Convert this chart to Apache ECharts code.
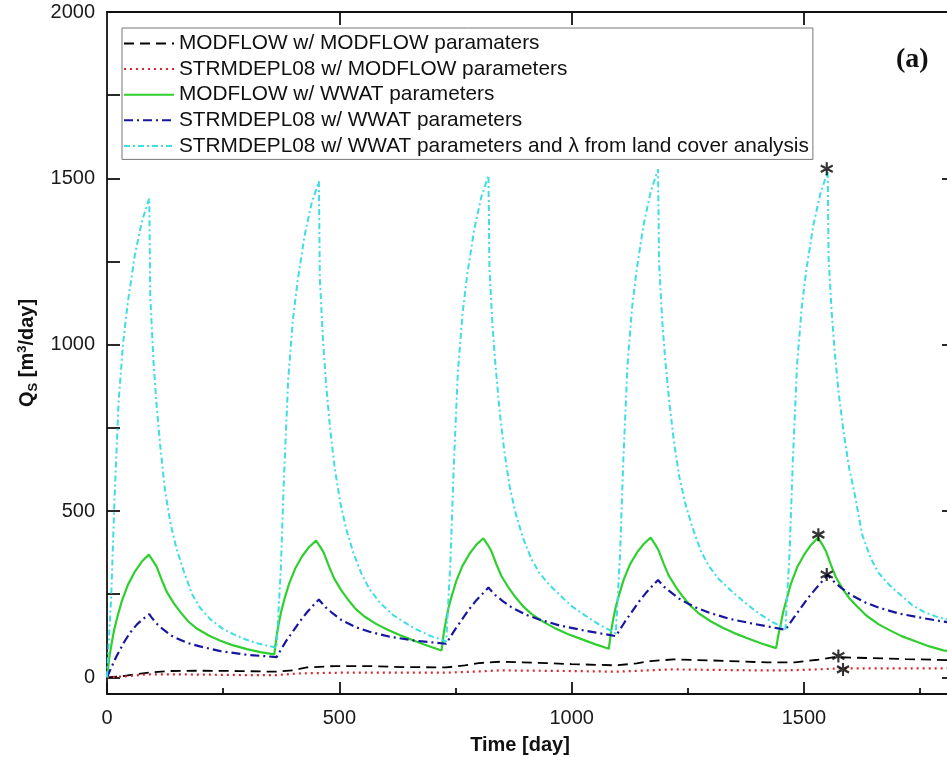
<!DOCTYPE html>
<html><head><meta charset="utf-8">
<script src="https://cdn.jsdelivr.net/npm/echarts@6/dist/echarts.min.js"></script>
<style>html,body{margin:0;padding:0;background:#fff}#c{width:947px;height:757px}</style>
</head><body><div id="c"></div>
<script>
// ---------- DATA ----------
const seriesNames = [
  'MODFLOW w/ MODFLOW paramaters',
  'STRMDEPL08 w/ MODFLOW parameters',
  'MODFLOW w/ WWAT parameters',
  'STRMDEPL08 w/ WWAT parameters',
  'STRMDEPL08 w/ WWAT parameters and \u03bb from land cover analysis'
];
const xTickValues = [0, 500, 1000, 1500];
const xMinorValues = [250, 750, 1250, 1750];
const yTickValues = [0, 250, 500, 750, 1000, 1250, 1500, 1750, 2000];
const yLabelValues = [0, 500, 1000, 1500, 2000];

// MODFLOW w/ MODFLOW parameters (black dashed)
const blackT = [0,30,60,90,130,200,280,365,400,430,490,560,640,730,770,800,846,920,1000,1095,1140,1170,1220,1300,1420,1480,1530,1565,1640,1720,1808,1825];
const blackV = [0,3,9,14,19,20,19,17,21,30,34,34,31,30,36,43,47,44,40,36,42,49,54,51,45,45,53,61,58,55,52,52];
// STRMDEPL08 w/ MODFLOW parameters (red dotted)
const redT = [0,40,86,150,290,365,416,500,631,730,800,846,1000,1097,1160,1219,1400,1460,1530,1580,1700,1825];
const redV = [0,3,9,9,7,7,12,14,14,14,18,21,19,17,21,24,21,21,24,27,27,27];

// MODFLOW w/ WWAT parameters (green) - cycle starts and day-in-cycle
const greenStarts = [0, 360, 720, 1080, 1440];
const greenDays = [0,5,10,15,22,32,45,60,75,90,93,100,107,118,129,145,158,175,194,220,244,270,301,330];
const greenC1 = [0,60,102,140,180,230,278,318,348,369,364,348,332,292,256,220,196,168,146,125,110,97,85,76];
const greenC2 = [69,125,164,199,236,282,327,364,392,411,406,390,373,333,297,260,235,206,183,160,143,127,110,95];
const greenC3 = [81,136,174,209,245,291,335,371,399,418,413,397,380,340,304,268,243,214,190,166,148,131,115,100];
const greenC4 = [86,140,178,212,248,294,338,374,401,420,415,399,382,342,306,270,245,216,192,168,150,133,116,101];
const greenC5 = [88,128,160,195,232,282,330,368,398,420,415,398,380,338,300,262,237,212,186,160,142,124,108,93];
const greenEndT = [1800, 1825];
const greenEndV = [81, 77];

// STRMDEPL08 w/ WWAT parameters (blue dash-dot)
const blueStarts = [0, 365, 730, 1095, 1460];
const blueDays = [0,10,20,36,50,65,80,91,95,105,121,140,172,200,244,300];
const blueC1 = [0,32,62,104,135,160,178,190,182,164,144,124,104,93,79,68];
const blueC2 = [61,85,108,140,168,195,218,234,227,211,192,172,150,137,122,110];
const blueC3 = [101,124,146,178,206,232,254,270,263,248,230,211,188,174,156,140];
const blueC4 = [124,146,168,200,228,254,277,293,286,271,253,233,210,195,176,160];
const blueC5 = [143,163,183,214,241,266,290,309,301,287,268,249,225,210,192,177];
const blueEndT = [1808, 1825];
const blueEndV = [166, 163];

// STRMDEPL08 w/ WWAT parameters and lambda (cyan)
const cyanStarts = [0, 365, 730, 1095, 1460];
const cyanDays = [0,4,9,16,25,35,45,60,75,91,93,100,106,115,125,137,150,165,183,200,222,250,272,300,330];
const cyanC1 = [0,110,240,530,830,1010,1130,1270,1370,1440,1150,950,830,690,560,460,385,320,250,210,175,145,130,113,100];
const cyanC2 = [89,196,323,605,897,1073,1190,1326,1423,1491,1200,1010,890,750,630,525,445,375,310,265,225,188,168,145,125];
const cyanC3 = [108,215,342,624,916,1091,1208,1344,1441,1509,1230,1050,940,800,680,570,490,420,357,315,278,240,212,185,158];
const cyanC4 = [132,239,364,645,936,1111,1227,1362,1459,1527,1250,1070,960,830,710,600,520,450,380,335,295,258,232,200,172];
const cyanC5 = [145,250,374,651,938,1110,1224,1358,1453,1520,1260,1090,980,850,740,630,545,430,360,315,280,245,218,195,180];
const cyanEndT = [1825];
const cyanEndV = [170];

// asterisk markers (peak points of last cycle)
const starT = [1549, 1531, 1549, 1574, 1584];
const starV = [1529, 429, 309, 64, 24];

// ---------- BUILD ----------
function pairs(ts, vs) { return ts.map((t, i) => [t, vs[i]]); }
function cycles(starts, days, cyc, endT, endV) {
  const out = [];
  starts.forEach((s, k) => days.forEach((d, i) => out.push([s + d, cyc[k][i]])));
  endT.forEach((t, i) => out.push([t, endV[i]]));
  return out;
}
const blackData = pairs(blackT, blackV);
const redData = pairs(redT, redV);
const greenData = cycles(greenStarts, greenDays, [greenC1, greenC2, greenC3, greenC4, greenC5], greenEndT, greenEndV);
const blueData = cycles(blueStarts, blueDays, [blueC1, blueC2, blueC3, blueC4, blueC5], blueEndT, blueEndV);
const cyanData = cycles(cyanStarts, cyanDays, [cyanC1, cyanC2, cyanC3, cyanC4, cyanC5], cyanEndT, cyanEndV);
const starData = pairs(starT, starV);

const FONT = '"Liberation Sans", Arial, sans-serif';
const AX = { color: '#111', width: 1.8 };
const plain = v => String(v);

function lineSeries(name, data, color, width, dash) {
  return {
    name, type: 'line', data, symbol: 'none', showSymbol: false, silent: true,
    lineStyle: { color, width, type: dash, cap: 'butt' },
    itemStyle: { color }, animation: false, xAxisIndex: 0, yAxisIndex: 0
  };
}

const chart = echarts.init(document.getElementById('c'), null, { renderer: 'canvas' });
chart.setOption({
  animation: false,
  backgroundColor: '#fff',
  grid: { left: 107, top: 12, width: 848, height: 682, containLabel: false, outerBoundsMode: 'none' },
  xAxis: [
    { type: 'value', min: 0, max: 1825, position: 'bottom',
      axisLine: { show: true, onZero: false, lineStyle: AX },
      axisTick: { show: true, inside: true, length: 12, lineStyle: AX, customValues: xTickValues },
      axisLabel: { show: true, customValues: xTickValues, formatter: plain, fontSize: 20, fontFamily: FONT, color: '#1a1a1a', margin: 14 },
      splitLine: { show: false },
      name: 'Time [day]', nameLocation: 'middle', nameGap: 41,
      nameTextStyle: { fontSize: 20, fontWeight: 'bold', fontFamily: FONT, color: '#111', padding: [0, 22, 0, 0] } },
    { type: 'value', min: 0, max: 1825, position: 'bottom',
      axisLine: { show: false, onZero: false },
      axisTick: { show: true, inside: true, length: 6, lineStyle: AX, customValues: xMinorValues },
      axisLabel: { show: false }, splitLine: { show: false } },
    { type: 'value', min: 0, max: 1825, position: 'top',
      axisLine: { show: true, onZero: false, lineStyle: AX },
      axisTick: { show: true, inside: true, length: 13, lineStyle: AX, customValues: [500, 1000, 1500] },
      axisLabel: { show: false }, splitLine: { show: false } }
  ],
  yAxis: [
    { type: 'value', min: -50, max: 2000, position: 'left',
      axisLine: { show: true, onZero: false, lineStyle: AX },
      axisTick: { show: true, inside: true, length: 13, lineStyle: AX, customValues: yTickValues },
      axisLabel: { show: true, customValues: yLabelValues, formatter: plain, fontSize: 20, fontFamily: FONT, color: '#1a1a1a', margin: 12 },
      splitLine: { show: false },
      name: '{a|Q}{s|S}{a| [m}{p|3}{a|/day]}', nameLocation: 'middle', nameGap: 50, nameRotate: 90,
      nameTextStyle: {
        fontSize: 20, fontWeight: 'bold', fontFamily: FONT, color: '#111',
        rich: {
          a: { fontSize: 20, fontWeight: 'bold', fontFamily: FONT, color: '#111', lineHeight: 24 },
          s: { fontSize: 13, fontWeight: 'bold', fontFamily: FONT, color: '#111', lineHeight: 12, verticalAlign: 'bottom' },
          p: { fontSize: 13, fontWeight: 'bold', fontFamily: FONT, color: '#111', lineHeight: 12, verticalAlign: 'top' }
        }
      } },
    { type: 'value', min: -50, max: 2000, position: 'right',
      axisLine: { show: true, onZero: false, lineStyle: AX },
      axisTick: { show: true, inside: true, length: 13, lineStyle: AX, customValues: [0, 500, 1000, 1500] },
      axisLabel: { show: false }, splitLine: { show: false } }
  ],
  legend: {
    orient: 'vertical', left: 122, top: 28,
    padding: [5, 4, 3, 1], itemGap: 4.6, itemWidth: 50, itemHeight: 14,
    backgroundColor: '#fff', borderColor: '#777', borderWidth: 1,
    selectedMode: false,
    itemStyle: { color: 'rgba(0,0,0,0)', borderWidth: 0, opacity: 0 },
    textStyle: { fontSize: 20.8, fontFamily: FONT, color: '#111', lineHeight: 20 },
    data: seriesNames
  },
  graphic: [
    { type: 'text', left: 896, top: 46, z: 100,
      style: { text: '(a)', font: 'bold 28px "Liberation Serif", "Times New Roman", serif', fill: '#111' } }
  ],
  series: [
    lineSeries(seriesNames[0], blackData, '#000000', 1.8, [10, 6]),
    lineSeries(seriesNames[1], redData, '#e0262b', 2.2, [2, 4]),
    lineSeries(seriesNames[2], greenData, '#2fcf2f', 2.2, 'solid'),
    lineSeries(seriesNames[3], blueData, '#1616a0', 2.2, [9, 4, 2, 4]),
    lineSeries(seriesNames[4], cyanData, '#3edde3', 2, [6, 3, 2, 3]),
    { type: 'scatter', data: starData, silent: true, animation: false,
      symbol: 'path://M10,0 L10,20 M1.34,5 L18.66,15 M1.34,15 L18.66,5',
      symbolSize: [12, 13],
      itemStyle: { color: 'rgba(0,0,0,0)', borderColor: '#000', borderWidth: 2.2 }, z: 10 }
  ]
});
</script></body></html>
